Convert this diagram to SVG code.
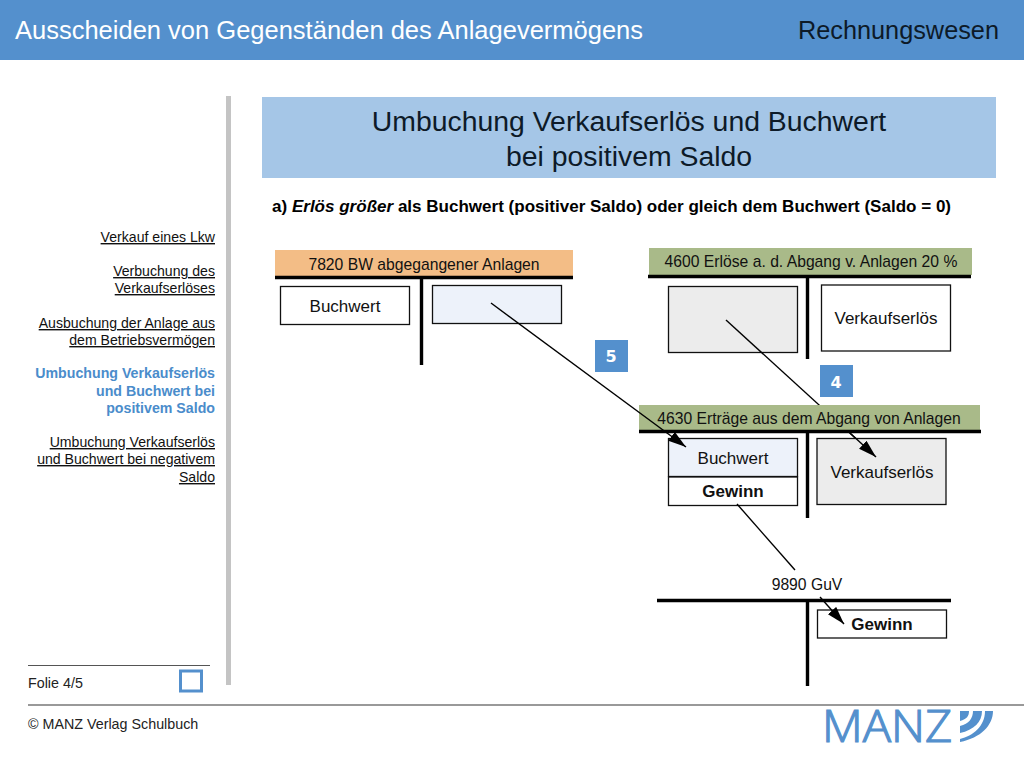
<svg xmlns="http://www.w3.org/2000/svg" width="1024" height="768" viewBox="0 0 1024 768">
<style>
text{font-family:"Liberation Sans",Arial,sans-serif;fill:#000}
.m{text-anchor:middle}
.e{text-anchor:end}
.nav{font-size:14.100px;text-anchor:end;fill:#111;text-decoration:underline}
.lab{font-size:17px;text-anchor:middle;fill:#111}
.hd{font-size:15.700px;text-anchor:middle;fill:#111}
.b{font-weight:bold}
.bar{stroke:#000;stroke-width:3.400;fill:none}
.box{stroke:#111;stroke-width:1.300}
.conn{stroke:#000;stroke-width:1.400;fill:none}
.badge{fill:#5490cd}
.bt{font-size:16px;font-weight:bold;fill:#fff;text-anchor:middle;font-family:"DejaVu Sans",sans-serif}
</style>
<defs>
<marker id="ah" markerUnits="userSpaceOnUse" markerWidth="20" markerHeight="14" refX="18" refY="5.500" orient="auto"><path d="M0 0L18 5.500L0 11z" fill="#000"/></marker>
</defs>
<rect width="1024" height="768" fill="#fff"/>
<g id="header">
<rect width="1024" height="60" fill="#5490cd"/>
<text x="15" y="39" font-size="25.500" style="fill:#fff">Ausscheiden von Gegenständen des Anlagevermögens</text>
<text x="999" y="39" font-size="25.300" class="e" style="fill:#0d1a28">Rechnungswesen</text>
</g>
<g id="sidebar">
<rect x="226" y="96" width="5" height="589" fill="#c4c4c4"/>
<text x="215" y="242" class="nav">Verkauf eines Lkw</text>
<text x="215" y="276" class="nav">Verbuchung des</text>
<text x="215" y="293" class="nav">Verkaufserlöses</text>
<text x="215" y="328" class="nav">Ausbuchung der Anlage aus</text>
<text x="215" y="345" class="nav">dem Betriebsvermögen</text>
<text x="215" y="378" font-size="14.200" class="e b" style="fill:#4a8ccb">Umbuchung Verkaufserlös</text>
<text x="215" y="396" font-size="14.200" class="e b" style="fill:#4a8ccb">und Buchwert bei</text>
<text x="215" y="413" font-size="14.200" class="e b" style="fill:#4a8ccb">positivem Saldo</text>
<text x="215" y="447" class="nav">Umbuchung Verkaufserlös</text>
<text x="215" y="464" class="nav">und Buchwert bei negativem</text>
<text x="215" y="482" class="nav">Saldo</text>
</g>
<g id="title">
<rect x="262" y="97" width="734" height="81" fill="#a5c6e7"/>
<text x="629" y="131" font-size="28.400" class="m" style="fill:#0d1a28">Umbuchung Verkaufserlös und Buchwert</text>
<text x="629" y="166" font-size="28.400" class="m" style="fill:#0d1a28">bei positivem Saldo</text>
</g>
<text id="subtitle" x="272" y="212" font-size="17.050" class="b">a) <tspan font-style="italic">Erlös größer</tspan> als Buchwert (positiver Saldo) oder gleich dem Buchwert (Saldo = 0)</text>

<g id="account-7820">
<rect x="275" y="250" width="298" height="27" fill="#f3bd86"/>
<text x="424" y="270" class="hd">7820 BW abgegangener Anlagen</text>
<path class="bar" d="M275 277.500H573M421.500 278V365"/>
<rect class="box" x="280.500" y="286.500" width="129" height="38" fill="#fff"/>
<text x="345" y="312" class="lab">Buchwert</text>
<rect class="box" x="432.500" y="285.500" width="129" height="38" fill="#edf2fa"/>
</g>

<g id="account-4600">
<rect x="649" y="248" width="323" height="27" fill="#a9ba89"/>
<text x="811" y="267" class="hd">4600 Erlöse a. d. Abgang v. Anlagen 20 %</text>
<path class="bar" d="M648 276.500H971M807.500 277V359"/>
<rect class="box" x="668.500" y="286.500" width="129" height="66" fill="#ececec"/>
<rect class="box" x="821.500" y="285" width="129" height="66" fill="#fff"/>
<text x="886" y="324" class="lab">Verkaufserlös</text>
</g>

<g id="connector-behind">
<path class="conn" d="M726 320L876 457" marker-end="url(#ah)"/>
</g>

<g id="account-4630">
<rect x="639" y="405" width="341" height="27" fill="#a9ba89"/>
<text x="809" y="424" class="hd">4630 Erträge aus dem Abgang von Anlagen</text>
<path class="bar" d="M639 431.500H981M807.500 432V518"/>
<rect class="box" x="668.500" y="438.500" width="129" height="38" fill="#edf2fa"/>
<text x="733" y="464" class="lab">Buchwert</text>
<rect class="box" x="668.500" y="477" width="129" height="28.500" fill="#fff"/>
<text x="733" y="497" class="lab b">Gewinn</text>
<rect class="box" x="817" y="438.500" width="129" height="66" fill="#ececec"/>
<text x="882" y="478" class="lab">Verkaufserlös</text>
</g>

<g id="connector-head-4">
<path class="conn" d="M850 433L876 457" marker-end="url(#ah)"/>
</g>

<g id="account-9890">
<text x="807" y="590" class="hd">9890 GuV</text>
<path class="bar" d="M657 600.500H951M807.500 601V686"/>
<rect class="box" x="817.500" y="610" width="129" height="28" fill="#fff"/>
<text x="882" y="630" class="lab b">Gewinn</text>
</g>

<g id="connectors">
<path class="conn" d="M491 303L686 447" marker-end="url(#ah)"/>
<path class="conn" d="M737 504L795 570"/>
<path class="conn" d="M820 597L844 624" marker-end="url(#ah)"/>
</g>

<g id="badge-5">
<rect class="badge" x="595" y="340" width="33" height="32"/>
<text x="611" y="362" class="bt">5</text>
</g>
<g id="badge-4">
<rect class="badge" x="820" y="365" width="33" height="32"/>
<text x="836" y="388" class="bt">4</text>
</g>

<g id="footer">
<line x1="28" y1="665.500" x2="210" y2="665.500" stroke="#555" stroke-width="1"/>
<text x="28" y="688" font-size="14.300" style="fill:#222">Folie 4/5</text>
<rect x="180.500" y="671" width="21" height="20" fill="#fff" stroke="#5490cd" stroke-width="3"/>
<line x1="28" y1="705" x2="1024" y2="705" stroke="#777" stroke-width="1.300"/>
<text x="28" y="729" font-size="14.300" style="fill:#222">© MANZ Verlag Schulbuch</text>
</g>

<g id="logo">
<text x="822" y="742" font-size="45" textLength="130" lengthAdjust="spacingAndGlyphs" style="fill:#5490cd;stroke:#5490cd;stroke-width:1.200;font-family:'Open Sans','Liberation Sans',sans-serif;font-weight:300">MANZ</text>
<path d="M960 711h9c0 5-2 8-9 10zM973 711h9c0 11-8 19-22 22v-7c9-2 13-8 13-15zM985 711h8c0 14-12 27-33 31v-3c13-3 25-13 25-28z" fill="#5490cd"/>
</g>
</svg>
